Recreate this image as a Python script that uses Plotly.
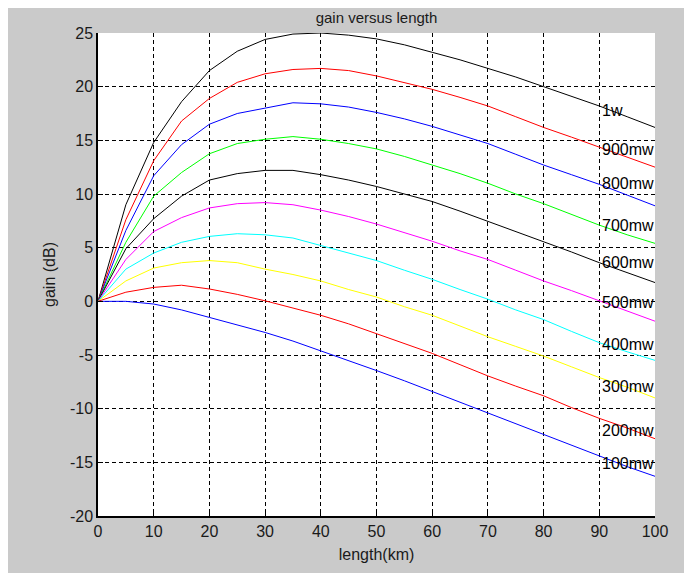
import plotly.graph_objects as go

length_km = [0, 5, 10, 15, 20, 25, 30, 35, 40, 45, 50, 55, 60, 65, 70, 75, 80, 85, 90, 95, 100]

gain_1w    = [0, 9.0, 14.8, 18.6, 21.5, 23.3, 24.4, 24.9, 25.0, 24.8, 24.45, 23.9, 23.2, 22.5, 21.7, 20.9, 20.0, 19.1, 18.2, 17.2, 16.2]
gain_900mw = [0, 7.6, 13.1, 16.8, 18.9, 20.4, 21.2, 21.6, 21.7, 21.5, 21.0, 20.4, 19.75, 19.0, 18.2, 17.2, 16.2, 15.3, 14.35, 13.4, 12.5]
gain_800mw = [0, 6.6, 11.7, 14.6, 16.5, 17.5, 18.0, 18.5, 18.4, 18.1, 17.6, 17.0, 16.3, 15.5, 14.7, 13.7, 12.7, 11.8, 10.9, 9.9, 8.9]
gain_700mw = [0, 5.5, 9.8, 12.0, 13.75, 14.7, 15.1, 15.35, 15.1, 14.7, 14.2, 13.5, 12.7, 11.9, 11.0, 10.0, 9.1, 8.1, 7.1, 6.2, 5.4]
gain_600mw = [0, 4.9, 7.7, 9.8, 11.3, 11.9, 12.2, 12.2, 11.8, 11.3, 10.7, 10.0, 9.3, 8.4, 7.45, 6.5, 5.6, 4.6, 3.6, 2.7, 1.75]
gain_500mw = [0, 3.9, 6.5, 7.8, 8.7, 9.1, 9.2, 9.0, 8.5, 7.9, 7.2, 6.4, 5.6, 4.7, 3.9, 2.9, 1.9, 1.0, 0.05, -0.9, -1.85]
gain_400mw = [0, 3.0, 4.5, 5.5, 6.05, 6.3, 6.2, 5.9, 5.2, 4.5, 3.8, 2.9, 2.05, 1.1, 0.2, -0.8, -1.7, -2.8, -3.85, -4.7, -5.5]
gain_300mw = [0, 1.9, 3.1, 3.6, 3.8, 3.6, 3.0, 2.5, 1.9, 1.1, 0.4, -0.5, -1.3, -2.3, -3.3, -4.2, -5.1, -6.1, -7.1, -8.0, -9.0]
gain_200mw = [0, 0.85, 1.3, 1.5, 1.15, 0.65, 0.05, -0.6, -1.3, -2.1, -3.0, -3.9, -4.85, -5.9, -6.95, -7.9, -8.8, -9.9, -10.9, -11.8, -12.8]
gain_100mw = [0, 0, -0.25, -0.8, -1.5, -2.2, -2.9, -3.7, -4.6, -5.5, -6.45, -7.4, -8.4, -9.4, -10.4, -11.4, -12.4, -13.4, -14.4, -15.4, -16.3]

series_names = ["1w", "900mw", "800mw", "700mw", "600mw", "500mw", "400mw", "300mw", "200mw", "100mw"]
series_values = [gain_1w, gain_900mw, gain_800mw, gain_700mw, gain_600mw,
                 gain_500mw, gain_400mw, gain_300mw, gain_200mw, gain_100mw]
series_colors = ["#000000", "#ff0000", "#0000ff", "#00ff00", "#000000",
                 "#ff00ff", "#00ffff", "#ffff00", "#ff0000", "#0000ff"]

label_x = 90.7
label_y = [17.8, 14.1, 11.0, 7.1, 3.6, -0.1, -4.0, -7.9, -12.0, -15.1]

x_ticks = [0, 10, 20, 30, 40, 50, 60, 70, 80, 90, 100]
y_ticks = [-20, -15, -10, -5, 0, 5, 10, 15, 20, 25]

FONT = "Liberation Sans, Arial, sans-serif"
BG = "#cacaca"

fig = go.Figure()
for name, vals, col in zip(series_names, series_values, series_colors):
    fig.add_trace(go.Scatter(x=length_km, y=vals, mode="lines", name=name,
                             line=dict(color=col, width=1), showlegend=False))

for name, ly in zip(series_names, label_y):
    fig.add_annotation(x=label_x, y=ly, text=name, showarrow=False,
                       xanchor="left", yanchor="middle", xshift=-3,
                       font=dict(family=FONT, size=16, color="black"))

# the page body adds an 8px offset; compensate so the plot area lands in place
W, H = 684, 565
L, R, T, B = 90, 37, 25, 52

axis_common = dict(
    showgrid=True, gridcolor="black", gridwidth=1, griddash="4px,3px",
    showline=True, linecolor="black", linewidth=1.5, mirror=False,
    ticks="inside", ticklen=5, tickcolor="black", tickwidth=1,
    tickfont=dict(family=FONT, size=16, color="#1a1a1a"),
    zeroline=False,
)

pw = W - L - R
fig.update_layout(
    width=W, height=H,
    margin=dict(l=L, r=R, t=T, b=B),
    paper_bgcolor=BG, plot_bgcolor="white",
    title=dict(text="gain versus length", x=(L + pw / 2) / W, xanchor="center",
               y=1 - 4 / H, yanchor="top",
               font=dict(family=FONT, size=15, color="#1a1a1a")),
    xaxis=dict(range=[0, 100], tickvals=x_ticks, ticktext=[str(v) for v in x_ticks],
               title=dict(text="length(km)", standoff=10,
                          font=dict(family=FONT, size=16, color="#1a1a1a")),
               **axis_common),
    yaxis=dict(range=[-20, 25], tickvals=y_ticks, ticktext=[str(v) for v in y_ticks],
               title=dict(text="gain (dB)", standoff=10,
                          font=dict(family=FONT, size=16, color="#1a1a1a")),
               **axis_common),
)

fig.write_html("out.html")
